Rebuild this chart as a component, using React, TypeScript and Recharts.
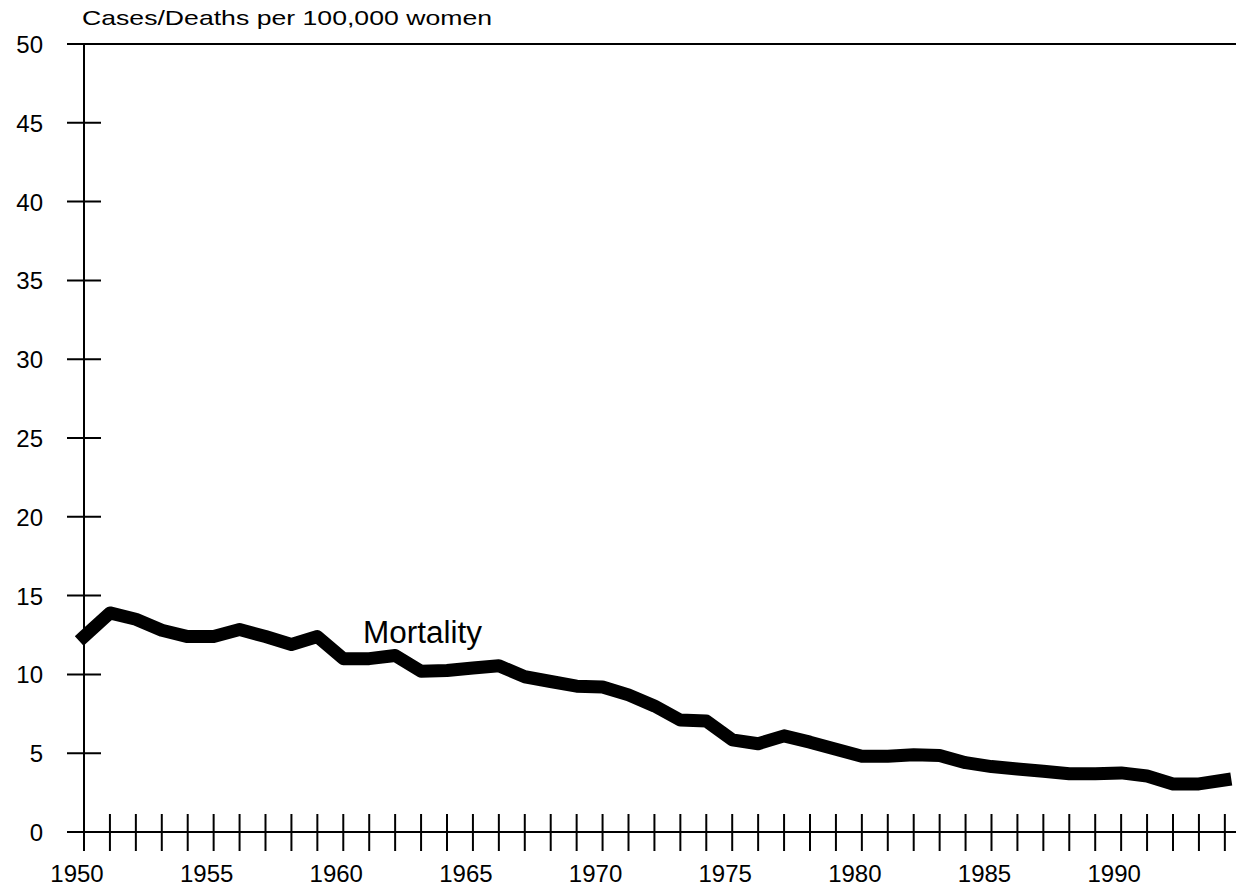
import {
  Line,
  LineChart,
  ReferenceDot,
  ReferenceLine,
  XAxis,
  YAxis,
} from "recharts";

const YEARS = [
  1950, 1951, 1952, 1953, 1954, 1955, 1956, 1957, 1958, 1959,
  1960, 1961, 1962, 1963, 1964, 1965, 1966, 1967, 1968, 1969,
  1970, 1971, 1972, 1973, 1974, 1975, 1976, 1977, 1978, 1979,
  1980, 1981, 1982, 1983, 1984, 1985, 1986, 1987, 1988, 1989,
  1990, 1991, 1992, 1993, 1994,
];

const MORTALITY = [
  12.4, 13.9, 13.5, 12.8, 12.4, 12.4, 12.85, 12.4, 11.9, 12.4,
  11.0, 11.0, 11.2, 10.2, 10.25, 10.4, 10.55, 9.85, 9.55, 9.25,
  9.2, 8.7, 8.0, 7.1, 7.05, 5.85, 5.6, 6.1, 5.7, 5.25,
  4.8, 4.8, 4.9, 4.85, 4.4, 4.15, 4.0, 3.85, 3.7, 3.7,
  3.75, 3.55, 3.05, 3.05, 3.3,
];

const LABELED_YEARS = [1950, 1955, 1960, 1965, 1970, 1975, 1980, 1985, 1990];
const Y_TICKS = [0, 5, 10, 15, 20, 25, 30, 35, 40, 45, 50];

const FONT = "'Liberation Sans', Arial, sans-serif";

const data = YEARS.map((year, i) => ({ year, mortality: MORTALITY[i] }));

function XTick(props: any) {
  const { x, y, payload } = props;
  const yr = payload.value as number;
  return (
    <g>
      <line x1={x} x2={x} y1={y - 18} y2={y + 19} stroke="#000" strokeWidth={2} />
      {LABELED_YEARS.includes(yr) && (
        <text
          x={x - 7}
          y={y + 50}
          textAnchor="middle"
          fontFamily={FONT}
          fontSize={24}
          fill="#000"
        >
          {yr}
        </text>
      )}
    </g>
  );
}

function YTick(props: any) {
  const { x, y, payload } = props;
  return (
    <g>
      <line x1={x - 17} x2={x + 17} y1={y} y2={y} stroke="#000" strokeWidth={2} />
      <text
        x={x - 41}
        y={y + 9}
        textAnchor="end"
        fontFamily={FONT}
        fontSize={24}
        fill="#000"
      >
        {payload.value}
      </text>
    </g>
  );
}

export default function App() {
  return (
    <div
      style={{
        position: "absolute",
        left: 0,
        top: 0,
        width: 1236,
        height: 887,
        background: "#fff",
      }}
    >
      <svg
        width={1236}
        height={40}
        style={{ position: "absolute", left: 0, top: 0 }}
      >
        <text
          x={82}
          y={25}
          fontFamily={FONT}
          fontSize={21}
          fill="#000"
          textLength={410}
          lengthAdjust="spacingAndGlyphs"
        >
          Cases/Deaths per 100,000 women
        </text>
      </svg>
      <LineChart
        width={1236}
        height={887}
        data={data}
        margin={{ top: 44, right: 0, left: 0, bottom: 0 }}
      >
        <XAxis
          dataKey="year"
          type="number"
          domain={[1950, 1994.43]}
          ticks={YEARS}
          interval={0}
          height={55}
          tickSize={0}
          tickMargin={0}
          tickLine={false}
          axisLine={{ stroke: "#000", strokeWidth: 2 }}
          tick={<XTick />}
        />
        <YAxis
          type="number"
          domain={[0, 50]}
          ticks={Y_TICKS}
          interval={0}
          width={84}
          tickSize={0}
          tickMargin={0}
          tickLine={false}
          axisLine={{ stroke: "#000", strokeWidth: 2 }}
          tick={<YTick />}
        />
        <ReferenceLine y={50} stroke="#000" strokeWidth={2} />
        <Line
          type="linear"
          dataKey="mortality"
          stroke="#000"
          strokeWidth={13}
          strokeLinejoin="round"
          strokeLinecap="square"
          dot={false}
          activeDot={false}
          isAnimationActive={false}
        />
        <ReferenceDot
          x={1960.76}
          y={12}
          r={0}
          ifOverflow="visible"
          shape={(p: any) => (
            <text
              x={p.cx}
              y={p.cy}
              fontFamily={FONT}
              fontSize={31}
              fill="#000"
              textLength={119}
              lengthAdjust="spacingAndGlyphs"
            >
              Mortality
            </text>
          )}
        />
      </LineChart>
    </div>
  );
}
